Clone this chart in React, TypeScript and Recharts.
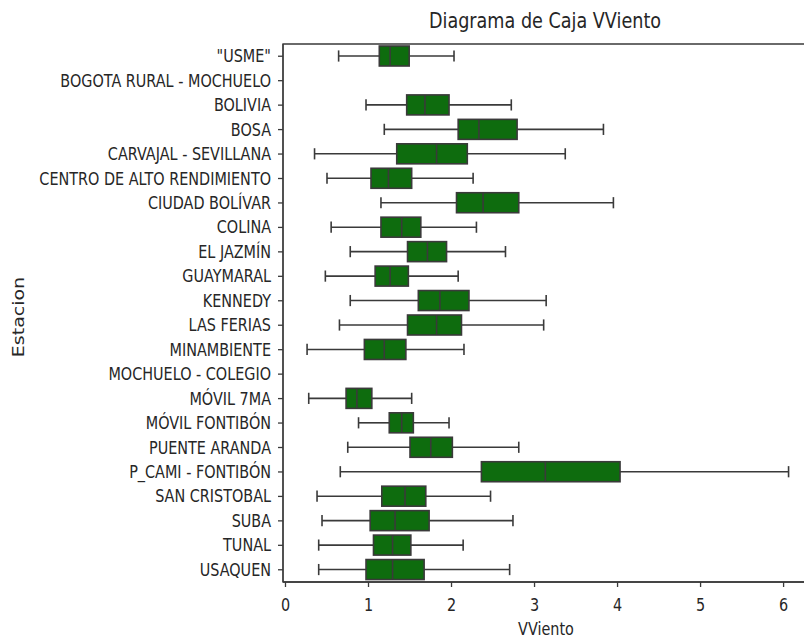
import { Bar, ComposedChart, ReferenceArea, XAxis, YAxis } from "recharts";

const stations = [
  '"USME"',
  "BOGOTA RURAL - MOCHUELO",
  "BOLIVIA",
  "BOSA",
  "CARVAJAL - SEVILLANA",
  "CENTRO DE ALTO RENDIMIENTO",
  "CIUDAD BOLÍVAR",
  "COLINA",
  "EL JAZMÍN",
  "GUAYMARAL",
  "KENNEDY",
  "LAS FERIAS",
  "MINAMBIENTE",
  "MOCHUELO - COLEGIO",
  "MÓVIL 7MA",
  "MÓVIL FONTIBÓN",
  "PUENTE ARANDA",
  "P_CAMI - FONTIBÓN",
  "SAN CRISTOBAL",
  "SUBA",
  "TUNAL",
  "USAQUEN",
];

// valores (null = estación sin datos)
const whiskerLow = [0.64, null, 0.97, 1.19, 0.35, 0.5, 1.15, 0.55, 0.78, 0.48, 0.78, 0.65, 0.26, null, 0.28, 0.88, 0.75, 0.66, 0.38, 0.44, 0.4, 0.4];
const q1 = [1.13, null, 1.46, 2.08, 1.34, 1.03, 2.06, 1.15, 1.47, 1.08, 1.6, 1.47, 0.95, null, 0.73, 1.25, 1.5, 2.36, 1.16, 1.02, 1.06, 0.97];
const median = [1.26, null, 1.68, 2.33, 1.82, 1.24, 2.38, 1.4, 1.71, 1.26, 1.86, 1.82, 1.19, null, 0.86, 1.4, 1.75, 3.13, 1.44, 1.32, 1.29, 1.29];
const q3 = [1.49, null, 1.97, 2.79, 2.19, 1.52, 2.81, 1.63, 1.94, 1.48, 2.21, 2.12, 1.45, null, 1.04, 1.54, 2.01, 4.03, 1.69, 1.73, 1.51, 1.67];
const whiskerHigh = [2.03, null, 2.72, 3.83, 3.37, 2.26, 3.95, 2.3, 2.65, 2.08, 3.14, 3.11, 2.15, null, 1.52, 1.97, 2.81, 6.06, 2.47, 2.74, 2.14, 2.7];

const xTicks = [0, 1, 2, 3, 4, 5, 6];

const data = stations.map((name, i) => ({
  name,
  span: whiskerLow[i] == null ? null : [whiskerLow[i], whiskerHigh[i]],
  lo: whiskerLow[i],
  q1: q1[i],
  med: median[i],
  q3: q3[i],
  hi: whiskerHigh[i],
}));

const FONT = "'DejaVu Sans', sans-serif";
const TEXT = "#262626";
const EDGE = "#3a3a3a";
const SQUEEZE = 0.8;

function BoxShape(props: any) {
  const { x, y, width, height, payload } = props;
  if (!payload || payload.lo == null) return null;
  const k = width / (payload.hi - payload.lo);
  const px = (v: number) => x + (v - payload.lo) * k;
  const cy = y + height / 2;
  const cap = height * 0.28;
  return (
    <g>
      <line x1={px(payload.lo)} x2={px(payload.q1)} y1={cy} y2={cy} stroke={EDGE} strokeWidth={1.6} />
      <line x1={px(payload.q3)} x2={px(payload.hi)} y1={cy} y2={cy} stroke={EDGE} strokeWidth={1.6} />
      <line x1={px(payload.lo)} x2={px(payload.lo)} y1={cy - cap} y2={cy + cap} stroke={EDGE} strokeWidth={1.6} />
      <line x1={px(payload.hi)} x2={px(payload.hi)} y1={cy - cap} y2={cy + cap} stroke={EDGE} strokeWidth={1.6} />
      <rect x={px(payload.q1)} y={y} width={px(payload.q3) - px(payload.q1)} height={height} fill="#0e6c0e" stroke={EDGE} strokeWidth={1.6} />
      <line x1={px(payload.med)} x2={px(payload.med)} y1={y} y2={y + height} stroke={EDGE} strokeWidth={1.6} />
    </g>
  );
}

function YTick(props: any) {
  const { x, y, payload } = props;
  return (
    <text
      transform={`translate(${x},${y}) scale(${SQUEEZE},1)`}
      textAnchor="end"
      dominantBaseline="central"
      fontFamily={FONT}
      fontSize={18}
      fill={TEXT}
    >
      {payload.value}
    </text>
  );
}

function XTick(props: any) {
  const { x, y, payload } = props;
  return (
    <text
      transform={`translate(${x},${y}) scale(${SQUEEZE},1)`}
      textAnchor="middle"
      dominantBaseline="central"
      dy={16}
      fontFamily={FONT}
      fontSize={18}
      fill={TEXT}
    >
      {payload.value}
    </text>
  );
}

export default function App() {
  return (
    <div style={{ position: "absolute", left: 0, top: 0, width: 804, height: 642, overflow: "hidden", background: "#fff" }}>
      <div
        style={{
          position: "absolute",
          left: 345,
          top: 8,
          width: 400,
          textAlign: "center",
          fontFamily: FONT,
          fontSize: 22,
          color: TEXT,
          transform: `scaleX(${SQUEEZE})`,
          whiteSpace: "nowrap",
        }}
      >
        Diagrama de Caja VViento
      </div>
      <ComposedChart
        width={820}
        height={642}
        data={data}
        layout="vertical"
        margin={{ top: 44, right: 14, bottom: 0, left: 0 }}
        barSize={20}
      >
        <XAxis
          type="number"
          domain={[-0.03, 6.27]}
          ticks={xTicks}
          allowDataOverflow
          height={60}
          tickSize={5}
          tickMargin={2}
          tick={<XTick />}
          stroke={EDGE}
          axisLine={{ stroke: EDGE, strokeWidth: 1.3 }}
          tickLine={{ stroke: EDGE, strokeWidth: 1.3 }}
          label={{
            content: () => (
              <text
                transform={`translate(546,629) scale(${SQUEEZE},1)`}
                textAnchor="middle"
                dominantBaseline="central"
                fontFamily={FONT}
                fontSize={18}
                fill={TEXT}
              >
                VViento
              </text>
            ),
          }}
        />
        <YAxis
          type="category"
          dataKey="name"
          width={283}
          interval={0}
          tickSize={5}
          tickMargin={7}
          tick={<YTick />}
          stroke={EDGE}
          axisLine={{ stroke: EDGE, strokeWidth: 1.3 }}
          tickLine={{ stroke: EDGE, strokeWidth: 1.3 }}
          label={{
            content: () => (
              <text
                transform="translate(19,317) rotate(-90) scale(1,0.8)"
                textAnchor="middle"
                dominantBaseline="central"
                fontFamily={FONT}
                fontSize={19}
                fill={TEXT}
              >
                Estacion
              </text>
            ),
          }}
        />
        <ReferenceArea x1={-0.03} x2={6.27} fill="none" stroke={EDGE} strokeWidth={1.3} />
        <Bar dataKey="span" shape={<BoxShape />} isAnimationActive={false} />
      </ComposedChart>
    </div>
  );
}
